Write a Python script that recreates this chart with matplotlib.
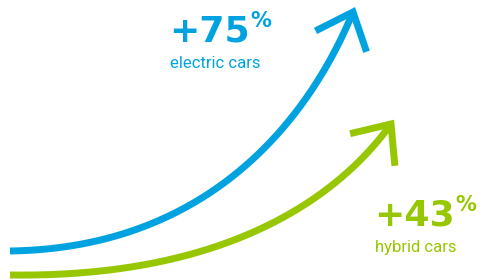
import numpy as np
import matplotlib.pyplot as plt

labels = ["electric cars", "hybrid cars"]
growth = [75, 43]
colors = ["#00a3e0", "#97c700"]

# curve shapes (cubic bezier control points, pixel space) and text anchors
curves = [
    [(10, 251), (220, 248), (315, 105), (353, 12)],
    [(10, 275), (230, 278), (340, 195), (391, 124)],
]
text_pos = [(169, 42), (374, 226)]

fig = plt.figure(figsize=(4.84, 2.80), dpi=100)
ax = fig.add_axes([0, 0, 1, 1])
ax.set_xlim(0, 484)
ax.set_ylim(280, 0)
ax.axis("off")

t = np.linspace(0, 1, 200)[:, None]
for pts, col in zip(curves, colors):
    p0, p1, p2, p3 = [np.array(p, dtype=float) for p in pts]
    b = (1 - t) ** 3 * p0 + 3 * (1 - t) ** 2 * t * p1 + 3 * (1 - t) * t ** 2 * p2 + t ** 3 * p3
    ax.plot(b[:, 0], b[:, 1], color=col, lw=5.0, solid_capstyle="butt")
    # arrow head
    d = (p2 - p3) / np.linalg.norm(p2 - p3)
    head = []
    for ang in (-41, 41):
        a = np.radians(ang)
        r = np.array([d[0] * np.cos(a) - d[1] * np.sin(a), d[0] * np.sin(a) + d[1] * np.cos(a)])
        head.append(p3 + 42 * r)
    hx = [head[0][0], p3[0], head[1][0]]
    hy = [head[0][1], p3[1], head[1][1]]
    ax.plot(hx, hy, color=col, lw=5.0, solid_capstyle="butt", solid_joinstyle="miter")

fig.canvas.draw()
renderer = fig.canvas.get_renderer()
for g, lab, col, (x, y) in zip(growth, labels, colors, text_pos):
    txt = ax.text(x, y, f"+{g}", color=col, fontsize=26, fontweight="bold",
                  family="DejaVu Sans", ha="left", va="baseline")
    bb = txt.get_window_extent(renderer).transformed(ax.transData.inverted())
    ax.text(max(bb.x0, bb.x1) + 1, y - 31, "%", color=col, fontsize=15, fontweight="bold",
            family="DejaVu Sans", ha="left", va="top")
    ax.text(x + 1, y + 26, lab, color=col, fontsize=12, family="Roboto",
            ha="left", va="baseline")

fig.savefig("out.png", dpi=100)
